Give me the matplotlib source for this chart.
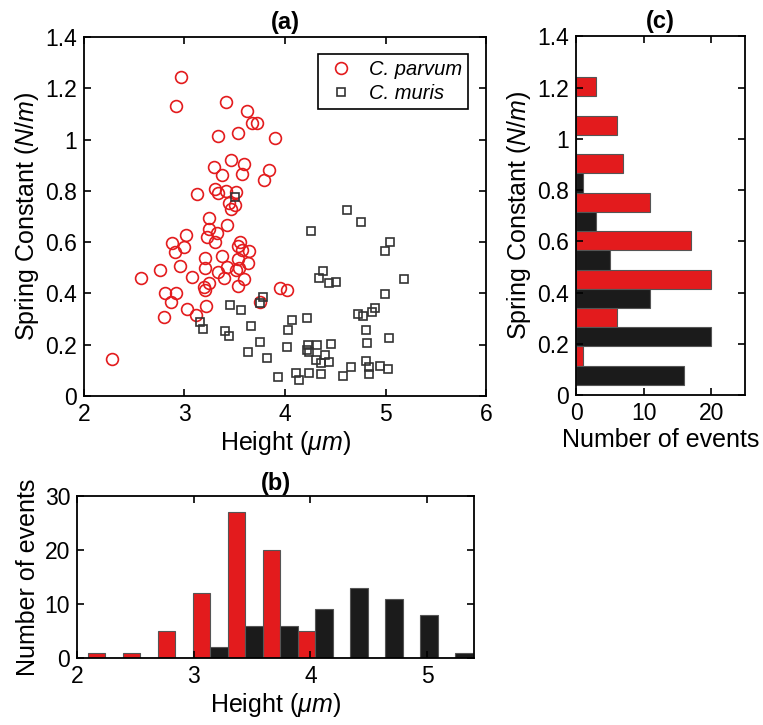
import matplotlib
matplotlib.use('Agg')
import matplotlib.pyplot as plt
from matplotlib.ticker import FuncFormatter

plt.rcParams['font.family'] = ['Liberation Sans', 'DejaVu Sans']
plt.rcParams['mathtext.fontset'] = 'custom'
plt.rcParams['mathtext.it'] = 'Liberation Sans:italic'
plt.rcParams['mathtext.rm'] = 'Liberation Sans'

RED = '#e31b1d'
DARK = '#1b1b1b'

# scatter data (height um, spring constant N/m)
parvum_h = [2.97, 2.915, 3.41, 3.62, 3.67, 3.72, 3.33, 3.53, 3.90, 3.46,
            3.29, 3.59, 3.37, 3.575, 3.84, 3.795, 3.12, 3.30, 3.33, 3.41,
            3.51, 3.44, 3.46, 3.505, 3.24, 3.42, 3.24, 3.32, 3.22, 3.30,
            3.015, 2.875, 2.91, 3.00, 3.55, 3.535, 3.575, 3.645, 3.20, 3.37,
            3.53, 3.63, 2.755, 2.955, 3.20, 3.425, 3.545, 3.335, 3.51, 2.57,
            3.08, 3.39, 3.595, 3.24, 3.19, 3.20, 3.53, 2.81, 2.915, 2.87,
            3.95, 4.02, 3.75, 3.21, 3.03, 3.11, 2.80, 2.275]
parvum_k = [1.245, 1.131, 1.145, 1.113, 1.066, 1.066, 1.015, 1.024, 1.005, 0.92,
            0.894, 0.905, 0.86, 0.864, 0.881, 0.842, 0.788, 0.807, 0.79, 0.80,
            0.797, 0.751, 0.728, 0.745, 0.695, 0.667, 0.65, 0.637, 0.621, 0.602,
            0.626, 0.598, 0.563, 0.582, 0.602, 0.585, 0.569, 0.565, 0.537, 0.546,
            0.533, 0.52, 0.491, 0.507, 0.498, 0.504, 0.498, 0.485, 0.491, 0.46,
            0.465, 0.459, 0.456, 0.442, 0.424, 0.411, 0.429, 0.40, 0.40, 0.368,
            0.42, 0.413, 0.368, 0.352, 0.338, 0.314, 0.307, 0.143]

muris_h = [3.505, 3.78, 3.75, 3.45, 3.56, 3.15, 3.18, 3.40, 3.44, 3.66,
           4.07, 4.03, 3.75, 4.02, 3.635, 3.825, 3.93, 4.11, 4.14, 4.62,
           4.755, 4.26, 5.045, 4.995, 4.375, 4.34, 4.44, 4.51, 5.18, 4.995,
           4.895, 4.87, 4.73, 4.78, 4.215, 4.805, 4.82, 5.03, 4.225, 4.315,
           4.455, 4.215, 4.24, 4.40, 4.31, 4.355, 4.44, 4.81, 4.835, 4.945,
           5.02, 4.655, 4.575, 4.24, 4.36, 4.835]
muris_k = [0.777, 0.387, 0.361, 0.356, 0.335, 0.29, 0.261, 0.253, 0.235, 0.274,
           0.296, 0.257, 0.209, 0.19, 0.17, 0.147, 0.075, 0.088, 0.062, 0.725,
           0.68, 0.643, 0.599, 0.565, 0.488, 0.461, 0.442, 0.443, 0.455, 0.397,
           0.342, 0.328, 0.319, 0.312, 0.303, 0.255, 0.208, 0.227, 0.199, 0.199,
           0.202, 0.179, 0.173, 0.16, 0.14, 0.13, 0.131, 0.137, 0.114, 0.118,
           0.105, 0.112, 0.078, 0.088, 0.085, 0.085]

# height histogram (b)
h_bins = [2.24, 2.54, 2.84, 3.14, 3.44, 3.74, 4.04, 4.34, 4.64, 4.94, 5.24]
h_parvum = [1, 1, 5, 12, 27, 20, 5, 0, 0, 0, 0]
h_muris = [0, 0, 0, 2, 6, 6, 9, 13, 11, 8, 1]

# spring constant histogram (c)
k_bins = [0.115, 0.265, 0.415, 0.565, 0.715, 0.865, 1.015, 1.165]
k_parvum = [1, 6, 20, 17, 11, 7, 6, 3]
k_muris = [16, 20, 11, 5, 3, 1, 0, 0]

fmt = FuncFormatter(lambda v, p: '%g' % round(v, 3))
TICK = 16.5
LAB = 18


def style(ax):
    ax.tick_params(direction='in', top=True, right=True, length=5, width=1.2,
                   labelsize=TICK, pad=5)
    for s in ax.spines.values():
        s.set_linewidth(1.3)


fig = plt.figure(figsize=(7.63, 7.25), dpi=100)

# (a) scatter
ax = fig.add_axes([0.110, 0.454, 0.527, 0.495])
ax.plot(parvum_h, parvum_k, 'o', ms=8.5, mfc='none', mec=RED, mew=1.2,
        label='C. parvum')
ax.plot(muris_h, muris_k, 's', ms=6, mfc='none', mec='#333333', mew=1.2,
        label='C. muris')
ax.set_xlim(2, 6)
ax.set_ylim(0, 1.4)
ax.set_xticks([2, 3, 4, 5, 6])
ax.set_yticks([0, 0.2, 0.4, 0.6, 0.8, 1.0, 1.2, 1.4])
ax.yaxis.set_major_formatter(fmt)
ax.set_xlabel(r'Height ($\mu m$)', fontsize=LAB, labelpad=2)
ax.set_ylabel(r'Spring Constant ($N/m$)', fontsize=LAB, labelpad=3)
ax.set_title('(a)', fontsize=17, fontweight='bold', pad=6)
leg = ax.legend(loc='upper right', prop={'style': 'italic', 'size': 14.5},
                fancybox=False, edgecolor='black', framealpha=1,
                borderpad=0.3, handletextpad=0.6, labelspacing=0.25,
                handlelength=1.6, borderaxespad=0,
                bbox_to_anchor=(0.955, 0.953))
leg.get_frame().set_linewidth(1.2)
style(ax)

# (b) height histogram
bw = 0.15
axb = fig.add_axes([0.101, 0.0924, 0.520, 0.2235])
axb.bar([c - bw / 2 for c in h_bins], h_parvum, width=bw, color=RED,
        edgecolor='#555555', linewidth=0.8)
axb.bar([c + bw / 2 for c in h_bins], h_muris, width=bw, color=DARK,
        edgecolor='#555555', linewidth=0.8)
axb.set_xlim(2, 5.4)
axb.set_ylim(0, 30)
axb.set_xticks([2, 3, 4, 5])
axb.set_yticks([0, 10, 20, 30])
axb.set_xlabel(r'Height ($\mu m$)', fontsize=LAB, labelpad=2)
axb.set_ylabel('Number of events', fontsize=LAB, labelpad=3)
axb.set_title('(b)', fontsize=17, fontweight='bold', pad=4)
style(axb)

# (c) spring constant histogram
kh = 0.075
axc = fig.add_axes([0.755, 0.455, 0.2215, 0.495])
axc.barh([c + kh / 2 for c in k_bins], k_parvum, height=kh, color=RED,
         edgecolor='#555555', linewidth=0.8)
axc.barh([c - kh / 2 for c in k_bins], k_muris, height=kh, color=DARK,
         edgecolor='#555555', linewidth=0.8)
axc.set_xlim(0, 25)
axc.set_ylim(0, 1.4)
axc.set_xticks([0, 10, 20])
axc.set_yticks([0, 0.2, 0.4, 0.6, 0.8, 1.0, 1.2, 1.4])
axc.yaxis.set_major_formatter(fmt)
axc.set_xlabel('Number of events', fontsize=LAB, labelpad=2)
axc.set_ylabel(r'Spring Constant ($N/m$)', fontsize=LAB, labelpad=3)
axc.set_title('(c)', fontsize=17, fontweight='bold', pad=6)
style(axc)

fig.savefig('out.png', dpi=100)
